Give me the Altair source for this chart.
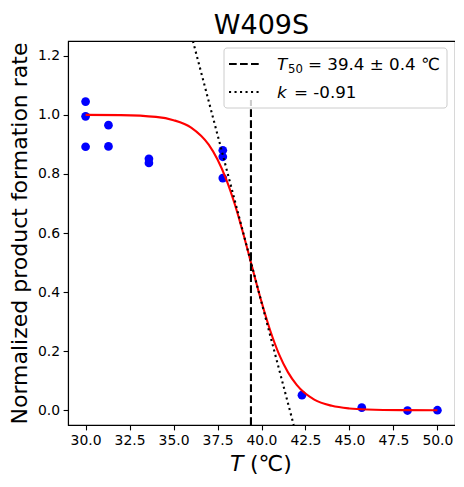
import altair as alt
import pandas as pd

# ---- data ----
temps = [30.0, 30.0, 30.0, 31.3, 31.3, 33.6, 33.6, 37.8, 37.8, 37.8, 42.3, 45.7, 48.3, 50.0]
rates = [1.045, 0.995, 0.892, 0.965, 0.893, 0.851, 0.837, 0.880, 0.858, 0.786, 0.051, 0.009, -0.001, 0.0]

curve_t = [30, 32, 34, 35, 36, 37, 37.5, 38, 38.5, 39, 39.4, 40, 40.5, 41, 41.5, 42, 43, 44, 45, 46, 48, 50]
curve_y = [1.000, 0.999, 0.993, 0.982, 0.957, 0.899, 0.849, 0.781, 0.694, 0.590, 0.500,
           0.367, 0.269, 0.189, 0.129, 0.086, 0.036, 0.015, 0.006, 0.0025, 0.0004, 0.0001]

tangent_t = [36.1, 41.83]
tangent_y = [1.25, -0.05]

t50 = [39.4]
t50_ymin = [-0.05]
t50_ymax = [1.05]

x_ticks = [30.0, 32.5, 35.0, 37.5, 40.0, 42.5, 45.0, 47.5, 50.0]
y_ticks = [0.0, 0.2, 0.4, 0.6, 0.8, 1.0, 1.2]

FONT = "DejaVu Sans"
W, H = 387, 384

xs = alt.Scale(domain=[29, 51], nice=False, zero=False)
ys = alt.Scale(domain=[-0.05, 1.25], nice=False, zero=False)

x_axis = alt.Axis(values=x_ticks, format=".1f", title=None, labelFlush=False,
                  tickSize=4.9, tickWidth=1.1, labelPadding=3.5, grid=False)
y_axis = alt.Axis(values=y_ticks, format=".1f", title="Normalized product formation rate",
                  titleFontSize=22, titleFont=FONT, titleFontWeight="normal",
                  titleX=-49, titleY=H / 2, titleAngle=-90, titleBaseline="middle",
                  titleAlign="center", titleColor="black",
                  tickSize=4.9, tickWidth=1.1, labelPadding=3.5, grid=False, labelFlush=False)

pts_df = pd.DataFrame({"T": temps, "rate": rates})
curve_df = pd.DataFrame({"T": curve_t, "y": curve_y})
tan_df = pd.DataFrame({"T": tangent_t, "y": tangent_y})
t50_df = pd.DataFrame({"T": t50, "y": t50_ymin, "y2": t50_ymax})

points = alt.Chart(pts_df).mark_circle(size=76, color="#0000ff", opacity=1).encode(
    x=alt.X("T:Q", scale=xs, axis=x_axis),
    y=alt.Y("rate:Q", scale=ys, axis=y_axis),
)

curve = alt.Chart(curve_df).mark_line(color="red", strokeWidth=2.1, interpolate="monotone", clip=True).encode(
    x=alt.X("T:Q", scale=xs),
    y=alt.Y("y:Q", scale=ys),
)

tangent = alt.Chart(tan_df).mark_line(color="black", strokeWidth=2.1, strokeDash=[2.1, 3.4], clip=True).encode(
    x=alt.X("T:Q", scale=xs),
    y=alt.Y("y:Q", scale=ys),
)

vline = alt.Chart(t50_df).mark_rule(color="black", strokeWidth=2.1, strokeDash=[7.7, 3.3]).encode(
    x=alt.X("T:Q", scale=xs),
    y=alt.Y("y:Q", scale=ys),
    y2="y2:Q",
)

one = alt.Data(values=[{"a": 1}])

# legend box
leg_box = alt.Chart(one).mark_rect(fill="white", fillOpacity=0.8, stroke="#cccccc",
                                   strokeWidth=1, cornerRadius=3).encode(
    x=alt.value(156), x2=alt.value(379), y=alt.value(7), y2=alt.value(67))
leg_dash = alt.Chart(one).mark_rule(color="black", strokeWidth=2.1, strokeDash=[7.7, 3.3]).encode(
    x=alt.value(161), x2=alt.value(192), y=alt.value(23))
leg_dot = alt.Chart(one).mark_rule(color="black", strokeWidth=2.1, strokeDash=[2.1, 3.4]).encode(
    x=alt.value(161), x2=alt.value(192), y=alt.value(51))


def txt(s, x, y, size, style="normal", align="left"):
    return alt.Chart(one).mark_text(text=s, font=FONT, fontSize=size, fontStyle=style,
                                    align=align, baseline="alphabetic", color="black").encode(
        x=alt.value(x), y=alt.value(y))


leg_texts = [
    txt("T", 209, 29, 16.7, "italic"),
    txt("50", 220, 32, 11.7),
    txt("= 39.4 ± 0.4 ℃", 240, 29, 16.7),
    txt("k", 209, 57, 16.7, "italic"),
    txt("= -0.91", 226, 57, 16.7),
]

xtitle = [
    txt("T", 162, H + 46, 22, "italic"),
    txt("(℃)", 182, H + 46, 22),
]

title = txt("W409S", W / 2, -7.5, 27, align="center")

chart = alt.layer(points, curve, tangent, vline, leg_box, leg_dash, leg_dot,
                  *leg_texts, *xtitle, title).properties(
    width=W, height=H,
    autosize=alt.AutoSizeParams(type="none"),
    padding={"left": 60, "top": 33, "right": 0, "bottom": 50},
).configure_view(stroke="black", strokeWidth=1.1).configure_axis(
    labelFont=FONT, labelFontSize=13.9, labelColor="black", domainColor="black",
    tickColor="black", domainWidth=1.1,
)

chart.save("out.html", embed_options={"renderer": "svg", "actions": False})
